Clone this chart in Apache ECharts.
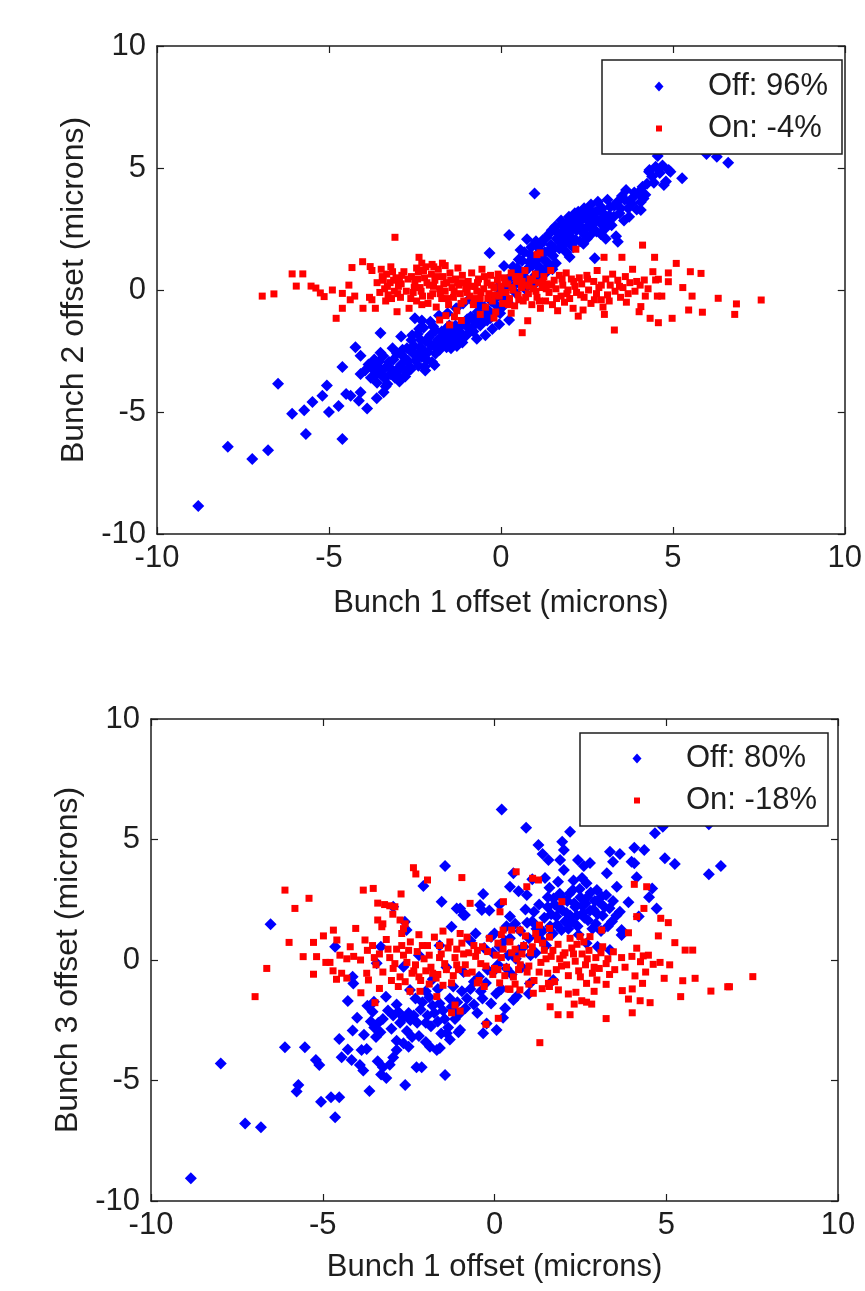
<!DOCTYPE html>
<html>
<head>
<meta charset="utf-8">
<script src="https://cdn.jsdelivr.net/npm/echarts@6/dist/echarts.min.js"></script>
<style>
  html, body { margin: 0; padding: 0; background: #ffffff; }
  #chart { width: 865px; height: 1291px; }
</style>
</head>
<body>
<div id="chart"></div>
<script>
// Axis ticks shared by both panels (microns)
const axisTicks = [-10, -5, 0, 5, 10];

const xTitle = 'Bunch 1 offset (microns)';
const yTitleTop = 'Bunch 2 offset (microns)';
const yTitleBottom = 'Bunch 3 offset (microns)';

const offNameTop = 'Off: 96%';
const onNameTop = 'On: -4%';
const offNameBottom = 'Off: 80%';
const onNameBottom = 'On: -18%';

// Bunch 1 vs bunch 2, feedback off
const offTop = [
  [-8.80,-8.85],[-7.94,-6.42],[-7.23,-6.93],[-6.77,-6.57],[-6.48,-3.84],[-6.07,-5.07],[-5.72,-4.93],[-5.67,-5.90],
  [-5.48,-4.59],[-5.19,-4.33],[-5.06,-3.91],[-5.00,-5.00],[-4.72,-4.75],[-4.61,-6.11],[-4.61,-3.16],[-4.50,-4.26],
  [-4.37,-4.33],[-4.23,-2.35],[-4.13,-4.54],[-4.08,-2.69],[-4.08,-4.19],[-3.89,-4.86],[-4.08,-3.44],[-3.61,-4.44],
  [-3.41,-4.19],[-3.50,-1.76],[-3.50,-2.57],[-3.15,-2.39],[-2.90,-1.91],[-2.73,-2.39],[-2.50,-1.16],[-2.21,-3.14],
  [-1.93,-3.07],[-1.45,-2.39],
  [-3.85,-3.05],[-3.72,-3.25],[-3.65,-3.50],[-3.55,-2.95],[-3.45,-3.30],[-3.38,-3.62],[-3.30,-3.10],[-3.22,-3.45],
  [-3.12,-2.85],[-3.05,-3.30],[-2.98,-3.55],[-2.90,-3.05],[-2.82,-2.75],[-3.60,-3.80],[-3.30,-3.85],[-2.95,-3.75],
  [-2.75,-3.40],[-2.65,-3.15],
  [-2.60,-2.05],[-2.55,-2.60],[-2.48,-2.90],[-2.42,-1.80],[-2.35,-2.35],[-2.30,-2.75],[-2.25,-1.55],[-2.18,-2.10],
  [-2.12,-2.55],[-2.05,-1.85],[-2.00,-2.95],[-1.95,-2.30],[-1.90,-1.65],[-2.40,-3.10],[-2.65,-2.45],[-2.20,-3.30],
  [-2.30,-1.25],[-2.05,-1.30],[-1.80,-1.05],[-1.55,-0.95],[-1.30,-0.75],[-1.10,-0.55],[-0.90,-0.35],
  [-1.75,-1.95],[-1.68,-2.20],[-1.60,-1.60],[-1.52,-2.05],[-1.45,-1.80],[-1.40,-2.25],[-1.32,-1.45],[-1.25,-1.95],
  [-1.20,-1.70],[-1.12,-2.15],[-1.05,-1.35],[-1.00,-1.85],[-0.95,-1.55],[-0.88,-1.10],[-0.80,-1.70],[-0.75,-1.30],
  [-0.68,-0.90],[-0.60,-1.45],[-0.55,-1.05],[-0.48,-0.70],[-0.40,-1.25],[-0.35,-0.85],[-0.28,-0.45],[-0.20,-1.00],
  [-0.15,-0.60],[-0.08,-0.25],[0.00,-0.75],[0.05,-0.35],[0.12,0.05],[0.20,-0.50],[0.24,-1.23],[-0.05,-1.40],
  [-0.25,-1.60],[-0.45,-1.85],[-0.70,-2.00],[-0.10,0.10],[-0.33,1.52],[0.24,2.25],[0.98,3.95],
  [0.09,0.98],[0.57,1.64],[0.76,2.08],[0.30,0.55],[0.40,0.20],[0.48,0.90],[0.55,0.40],[0.62,1.20],
  [0.70,0.75],[0.78,0.30],[0.85,1.45],[0.92,1.00],[1.00,0.60],[1.05,1.80],[1.10,1.30],[1.15,0.90],
  [1.22,2.05],[1.28,1.55],[1.35,1.15],[1.40,2.30],[1.45,1.85],[1.52,1.40],[1.58,2.60],[1.62,2.10],
  [1.70,1.70],[1.75,2.85],[1.80,2.35],[1.85,1.90],[1.92,2.60],[1.98,3.00],[2.02,2.20],[2.08,2.75],
  [2.15,3.15],[2.20,2.45],[2.25,3.21],[2.30,2.00],[2.35,2.90],[2.42,3.35],[2.48,2.55],[2.55,3.05],
  [2.62,3.50],[2.68,2.70],[2.73,1.30],[2.75,3.20],[2.82,3.62],[2.88,2.85],[2.95,3.35],[3.02,2.50],
  [3.10,3.70],[3.15,3.05],[3.22,2.65],[3.30,3.45],[3.35,2.20],[3.40,1.98],[3.45,3.15],[3.52,3.85],
  [3.58,2.85],[3.64,4.10],[3.73,3.00],[3.80,3.55],[3.88,4.00],[3.95,3.30],[4.07,3.61],[4.07,3.28],
  [4.12,4.23],[4.20,3.90],[4.31,4.85],[4.32,4.92],[4.45,4.40],[4.50,5.05],[4.56,5.49],[4.74,4.30],
  [4.80,4.45],[4.88,4.92],[4.93,4.85],[5.27,4.58],[5.98,5.57],[6.28,5.46],[6.61,5.22],
  [1.60,1.10],[1.90,1.55],[2.10,1.75],[1.30,0.70],[0.95,0.20],[2.40,1.90],[2.60,2.25],[1.50,0.85],
  [0.70,0.05],[1.85,2.55],[2.00,1.35],[2.35,2.40],[2.50,2.10],[2.90,2.30],[3.05,2.10],[1.15,1.60],
  [1.70,2.30],[1.95,2.10],[2.25,2.70],[2.05,2.45],[1.80,1.95],[1.40,1.00],[1.10,0.55],[0.80,0.90],
  [0.45,0.65],
  [-3.95,-3.30],[-3.78,-3.60],[-3.68,-2.85],[-3.58,-3.15],[-3.48,-3.45],[-3.42,-2.70],[-3.35,-3.95],[-3.25,-2.95],
  [-3.18,-3.25],[-3.08,-3.60],[-3.02,-2.60],[-2.92,-3.20],[-2.86,-2.45],[-2.78,-3.55],[-2.70,-2.90],[-2.62,-3.25],
  [-2.58,-1.85],[-2.52,-2.30],[-2.44,-2.65],[-2.38,-1.60],[-2.33,-2.05],[-2.26,-2.45],[-2.16,-2.85],[-2.10,-1.95],
  [-2.03,-2.25],[-1.97,-1.50],[-1.90,-2.60],[-1.84,-2.05],[-1.78,-2.45],[-1.72,-1.70],[-1.65,-1.95],[-1.58,-2.35],
  [-1.50,-1.45],[-1.42,-2.05],[-1.36,-1.65],[-1.28,-2.30],[-1.18,-1.50],[-1.10,-1.90],[-0.98,-1.20],[-0.85,-1.55],
  [-0.72,-1.15],[-0.62,-0.60],[-0.52,-1.30],[-0.42,-0.95],[-0.30,-1.15],[-0.18,-0.30],[-0.02,-0.95],[0.10,-0.60],
  [0.18,0.40],[0.35,0.95],[0.42,-0.10],[0.52,1.25],[0.60,0.65],[0.68,1.55],[0.74,0.45],[0.82,1.15],
  [0.88,1.75],[0.98,1.25],[1.02,2.00],[1.08,0.95],[1.18,1.90],[1.25,1.25],[1.32,2.15],[1.38,1.60],
  [1.48,2.45],[1.55,1.70],[1.65,2.35],[1.72,1.95],[1.78,2.70],[1.88,2.20],[1.95,2.80],[2.00,1.90],
  [2.12,2.55],[2.18,2.05],[2.22,2.95],[2.32,2.60],[2.38,3.10],[2.45,2.25],[2.52,2.85],[2.58,3.30],
  [2.65,2.50],[2.72,3.00],[2.78,2.40],[2.85,3.30],[2.92,2.70],[3.00,3.10],[3.08,2.80],[3.18,3.40],
  [3.28,3.00],[3.38,3.60],[3.48,3.35],[3.60,3.70],[3.70,3.35],[3.85,3.80],[4.00,4.00],[4.15,3.75],
  [4.25,4.35],[4.40,4.65],[4.62,4.80],[4.70,5.10]
];

// Bunch 1 vs bunch 2, feedback on
const onTop = [
  [-6.94,-0.25],[-6.60,-0.16],[-6.07,0.66],[-5.76,0.66],[-5.95,0.16],[-5.52,0.16],[-5.38,0.08],[-5.25,-0.12],
  [-5.14,-0.27],[-4.90,0.00],[-4.79,-1.16],[-4.61,-0.14],[-4.61,-0.75],[-4.42,0.20],[-4.33,0.92],[-4.25,-0.25],
  [-4.38,-0.40],[-4.02,1.16],[-4.01,-0.75],[-3.80,0.96],[-3.75,0.80],[-3.82,-0.30],[-3.75,-0.40],[-3.65,-0.75],
  [-3.08,2.16],[-3.02,-0.89],[-2.67,-0.75],[-2.38,1.34],[-2.30,1.10],[-2.00,1.05],[-1.62,1.00],[-1.49,-1.43],
  [-1.78,-1.23],
  [-3.48,0.85],[-3.42,0.40],[-3.38,0.05],[-3.32,0.65],[-3.28,-0.20],[-3.22,0.30],[-3.15,0.75],[-3.10,-0.05],
  [-3.05,0.50],[-2.98,0.15],[-2.92,-0.30],[-2.88,0.60],[-3.35,-0.45],[-3.20,0.95],[-2.95,0.35],
  [-2.60,0.55],[-2.55,-0.10],[-2.50,0.30],[-2.45,-0.45],[-2.40,0.75],[-2.35,0.10],[-2.28,-0.25],[-2.22,0.50],
  [-2.18,0.95],[-2.12,-0.55],[-2.08,0.20],[-2.02,0.65],[-1.98,-0.15],[-1.92,0.40],[-1.88,-0.70],[-1.82,0.85],
  [-1.78,0.05],[-1.72,-0.35],[-1.68,0.55],[-1.62,-0.05],[-1.58,0.30],[-1.52,-0.60],[-1.48,0.70],[-1.42,0.10],
  [-1.38,-0.30],[-1.32,0.45],[-1.28,-0.85],[-1.22,0.20],[-1.18,-0.15],[-1.12,0.60],[-1.08,-0.45],[-1.02,0.05],
  [-1.60,-1.05],[-1.35,-1.10],[-1.15,-1.25],[-2.30,-0.60],[-1.95,0.95],[-2.45,0.90],[-1.70,1.10],[-1.25,0.90],
  [-0.95,0.35],[-0.90,-0.25],[-0.85,0.70],[-0.80,-0.60],[-0.75,0.15],[-0.70,-0.05],[-0.65,0.45],[-0.60,-0.35],
  [-0.55,0.85],[-0.50,0.05],[-0.45,-0.70],[-0.40,0.30],[-0.35,-0.15],[-0.30,0.60],[-0.25,-0.45],[-0.20,0.10],
  [-0.15,-0.90],[-0.10,0.40],[-0.05,-0.25],[0.00,0.15],[0.05,-0.55],[0.10,0.50],[0.15,-0.10],[0.20,0.25],
  [0.25,-0.35],[0.30,0.70],[0.35,0.00],[0.40,-0.65],[0.45,0.35],[0.50,-0.20],[0.55,0.55],[0.60,0.10],
  [0.62,-1.75],[0.65,-0.45],[0.70,0.80],[0.75,0.20],[0.78,-1.26],[0.80,-0.15],[0.85,0.45],[0.90,-0.60],
  [0.95,0.05],[1.00,0.65],[-0.60,-1.00],[-0.20,-1.15],[0.30,-0.95],[1.05,1.45],
  [1.05,-0.30],[1.10,0.30],[1.14,1.52],[1.15,-0.75],[1.20,0.10],[1.25,0.55],[1.30,-0.45],[1.35,0.25],
  [1.40,-0.10],[1.45,0.80],[1.50,-0.60],[1.55,0.40],[1.60,0.05],[1.65,-0.85],[1.70,0.60],[1.75,-0.25],
  [1.80,0.20],[1.85,-0.50],[1.90,0.70],[1.95,0.00],[2.00,-0.35],[2.05,0.45],[2.10,-0.75],[2.15,0.15],
  [2.18,1.67],[2.20,-0.10],[2.25,-1.07],[2.28,0.50],[2.39,-0.82],
  [2.35,0.25],[2.42,-0.30],[2.50,0.60],[2.55,0.00],[2.62,-0.55],[2.70,0.35],[2.78,-0.15],[2.80,0.80],
  [2.85,0.10],[2.92,-0.40],[2.97,-0.70],[3.00,1.34],[3.01,-1.00],[3.05,0.45],[3.10,-0.20],[3.18,0.20],
  [3.25,0.65],[3.30,-1.64],[3.32,-0.05],[3.40,0.40],[3.48,-0.30],[3.52,1.34],[3.55,0.10],[3.62,0.55],
  [3.70,-0.15],[3.75,0.30],[3.83,0.85],[3.90,-0.05],[4.02,-0.89],[4.05,0.20],[4.07,-0.68],[4.12,1.84],
  [4.17,0.41],[4.20,-0.25],[4.28,0.05],[4.34,-1.16],[4.42,0.75],[4.47,1.34],[4.50,0.41],[4.55,-0.25],
  [4.58,-1.34],[4.58,0.44],[4.68,-0.25],[4.87,0.70],[4.87,0.34],[4.98,-1.16],[5.10,1.09],[5.29,0.10],
  [5.46,-0.82],[5.51,0.75],[5.56,-0.25],[5.82,0.68],[5.86,-0.91],[6.32,-0.34],[6.80,-1.00],[6.85,-0.57],
  [7.57,-0.41],
  [-3.60,0.30],[-3.52,-0.10],[-3.45,0.55],[-3.30,0.15],[-3.18,-0.35],[-3.12,0.40],[-3.00,-0.15],[-2.90,0.25],
  [-2.82,0.75],[-2.75,-0.05],[-2.70,0.45],[-2.62,-0.35],[-2.52,0.10],[-2.42,0.45],[-2.32,-0.05],[-2.25,0.80],
  [-2.15,0.30],[-2.05,-0.25],[-1.96,0.15],[-1.86,0.55],[-1.76,-0.15],[-1.66,0.25],[-1.56,-0.35],[-1.46,0.40],
  [-1.36,-0.05],[-1.26,0.30],[-1.16,-0.55],[-1.06,0.30],[-0.98,-0.10],[-0.88,0.15],[-0.78,-0.35],[-0.68,0.30],
  [-0.58,-0.10],[-0.48,0.55],[-0.38,-0.35],[-0.28,0.20],[-0.18,-0.20],[-0.08,0.65],[0.02,-0.10],[0.12,0.30],
  [0.22,-0.60],[0.32,0.10],[0.42,0.55],[0.52,-0.40],[0.62,0.35],[0.72,-0.30],[0.82,0.15],[0.92,0.40],
  [1.02,-0.05],[1.12,-0.45],[1.22,0.35],[1.32,0.05],[1.48,0.20],[1.62,-0.35],[1.78,0.45],[1.92,-0.15],
  [2.12,0.35],[2.32,-0.20],[2.52,0.45],[2.72,-0.40],[2.92,0.20],[3.15,-0.45],[3.45,0.15],[3.65,-0.50],
  [3.95,0.35]
];

// Bunch 1 vs bunch 3, feedback off
const offBottom = [
  [-8.84,-9.06],[-7.97,-4.29],[-7.26,-6.78],[-6.80,-6.94],[-6.52,1.48],[-6.10,-3.62],[-5.52,-3.62],[-5.20,-4.15],
  [-5.10,-4.36],[-5.71,-5.19],[-5.76,-5.46],[-5.05,-5.88],[-4.76,-5.70],[-4.52,-5.70],[-4.64,-6.53],[-4.64,0.55],
  [-4.52,-3.28],[-4.45,-4.04],[-4.27,-3.71],[-4.27,-1.70],[-4.13,-2.93],[-4.16,-4.15],[-4.13,-0.69],[-4.11,-0.97],
  [-3.87,-3.73],[-3.72,-3.69],[-3.92,-4.36],[-3.82,-4.59],[-3.64,-5.44],
  [-3.60,-2.55],[-3.50,-2.80],[-3.45,-3.20],[-3.38,-2.60],[-3.32,-3.00],[-3.51,-1.73],
  [-3.40,-4.20],[-3.25,-4.45],[-3.15,-4.90],[-3.30,-4.75],[-3.05,-4.35],
  [-3.16,-1.52],[-3.10,-2.10],[-2.95,-2.30],[-2.80,-2.15],[-2.65,-2.40],[-2.50,-2.20],[-2.45,-2.50],
  [-2.85,-3.35],[-2.85,-3.73],[-2.65,-3.45],[-2.60,-5.19],[-2.27,-4.45],[-2.12,-4.45],[-2.40,-3.20],[-2.20,-3.15],
  [-1.88,-3.60],[-1.68,-3.73],[-1.44,-4.77],
  [-2.10,-1.75],[-1.95,-2.30],[-1.80,-1.90],[-1.65,-2.55],[-1.50,-2.10],[-1.35,-2.80],[-1.25,-1.95],[-1.15,-2.45],
  [-1.05,-3.00],[-1.00,-2.20],[-1.85,-2.75],[-1.55,-3.05],[-2.25,-2.60],
  [-1.44,3.90],[-2.07,3.07],[-1.54,2.42],[-1.10,2.14],[-0.91,1.87],[-1.25,1.38],[-2.61,1.59],[-2.56,1.24],
  [-2.95,2.21],[-3.31,0.55],[-3.43,-0.14],[-2.65,-0.28],[-2.46,-1.24],
  [-1.39,-3.04],[-1.00,-2.90],[-0.33,-3.04],[0.06,-2.90],[-0.23,-2.63],[0.31,-2.00],[0.55,-1.66],[1.03,-0.97],
  [1.71,-0.83],[2.68,0.69],[3.00,0.55],[3.36,0.41],[3.70,1.04],[-1.59,-3.65],
  [0.21,6.25],[0.92,5.49],[2.20,5.32],[1.28,4.77],[1.40,4.40],[1.57,4.15],[1.97,4.91],[2.02,4.56],
  [1.91,4.15],[2.02,3.73],[2.43,4.15],[2.78,4.02],[2.60,3.90],[3.36,4.49],[3.65,4.40],[3.45,4.08],
  [4.07,4.66],[4.36,4.56],[3.99,4.08],[4.07,4.01],[4.67,5.26],[4.90,5.53],[4.96,4.22],[5.25,3.98],
  [6.24,3.56],[6.59,3.90],[6.24,5.63],[4.14,3.43],[4.59,2.97],[4.72,2.14],[3.27,3.60],[3.56,3.04],
  [3.65,2.00],[3.70,1.24],[0.45,3.04],[0.70,2.85],[0.94,2.70],[1.47,3.40],[1.85,3.25],[2.30,3.30],
  [2.55,3.40],[2.68,3.18],[-0.33,2.74],[-0.42,2.28],[-0.37,2.07],[-1.00,2.14],[-0.86,1.87],[2.98,2.90],
  [3.12,2.63],
  [1.55,2.60],[1.65,1.90],[1.75,2.30],[1.82,1.45],[1.90,2.75],[1.98,2.05],[2.05,1.60],[2.12,2.45],
  [2.20,1.85],[2.28,2.90],[2.35,2.20],[2.42,1.40],[2.50,2.60],[2.58,1.95],[2.65,2.35],[2.72,1.65],
  [2.80,2.80],[2.88,2.10],[2.95,1.50],[3.05,2.40],[3.15,1.85],[3.25,2.70],[3.35,2.15],[3.42,1.60],
  [2.15,1.30],[1.70,1.10],[2.45,1.05],[3.10,1.20],
  [-0.80,-1.60],[-0.60,-0.90],[-0.50,-2.20],[-0.40,-1.30],[-0.30,0.50],[-0.20,-0.40],[-0.10,-1.80],[0.00,1.10],
  [0.10,-0.20],[0.20,-1.20],[0.30,0.80],[0.40,0.20],[0.50,-0.60],[0.60,1.50],[0.70,0.40],[0.80,-0.30],
  [0.90,2.10],[1.00,0.90],[1.10,1.60],[1.20,0.30],[1.30,2.30],[1.40,1.20],[1.50,0.60],[-0.70,0.80],
  [-0.90,-0.50],[-1.20,-1.10],[-1.40,-0.30],[-1.60,0.60],[-1.80,-0.80],[-2.00,-1.30],[-2.20,0.20],[-0.05,0.30],
  [0.25,-2.40],[0.65,-1.50],[1.00,-1.40],[1.25,1.00],[0.45,1.80],[0.15,2.30],[-0.55,1.10],[4.50,2.60],
  [4.20,1.80],[3.90,2.40],[1.60,3.00],[1.10,3.35],[0.55,3.60],[-0.10,0.95],[-0.15,2.05],[0.35,1.40],
  [-3.55,-2.15],[-3.25,-2.45],[-3.00,-2.85],[-2.75,-2.60],[-2.55,-2.95],[-2.35,-2.30],[-2.15,-2.05],[-2.00,-2.60],
  [-1.90,-1.55],[-1.75,-2.20],[-1.60,-1.80],[-1.45,-2.45],[-1.30,-1.60],[-1.20,-2.05],[-1.08,-1.75],[-0.95,-1.30],
  [-0.85,-2.00],[-0.70,-1.20],[-0.60,-1.85],[-0.45,-0.70],[-0.35,-1.60],[-0.25,-0.95],[-0.05,-0.50],[0.05,-1.40],
  [0.15,0.55],[0.35,-0.35],[0.45,0.90],[0.62,0.05],[0.75,1.20],[0.85,0.55],[0.95,1.55],[1.05,0.20],
  [1.15,2.00],[1.22,1.30],[1.35,0.85],[1.45,1.75],[1.55,2.20],[1.62,1.40],[1.72,2.55],[1.80,1.80],
  [1.88,2.15],[1.95,1.25],[2.02,2.50],[2.10,1.95],[2.18,2.75],[2.25,1.60],[2.32,2.35],[2.40,1.85],
  [2.48,2.95],[2.55,2.25],[2.62,1.75],[2.70,2.60],[2.78,2.05],[2.85,1.30],[2.92,2.45],[3.00,1.90],
  [3.20,2.20],[3.30,1.40],[3.45,2.45],[3.55,1.85],[-2.85,-1.85],[-2.30,-1.60],[-1.65,-1.20],[-3.80,-3.10],
  [-4.00,-2.40],[-3.70,-1.90],[-2.95,-4.05],[-2.50,-3.60],[-2.00,-3.40],[-1.30,-3.30]
];

// Bunch 1 vs bunch 3, feedback on
const onBottom = [
  [-2.36,3.83],[-2.29,3.57],[-1.95,3.32],[-0.95,3.42],[-6.10,2.90],[-5.40,2.56],[-5.81,2.14],[-3.82,2.90],
  [-3.53,2.97],[-2.72,2.74],[-6.97,-1.52],[-6.63,-0.35],[-5.98,0.73],[-5.27,0.73],[-5.57,0.14],[-5.18,0.14],
  [-5.27,-0.59],[-4.98,1.00],[-4.69,1.24],[-4.59,0.83],[-4.91,-0.10],[-4.79,-0.10],[-4.70,-0.45],[-4.60,-0.80],
  [-4.45,-0.55],[-4.30,-0.75],[-4.50,0.20],[-4.30,0.05],[-4.10,0.15],[-3.90,0.00],[-4.04,1.31],[-3.77,0.83],
  [-3.89,-1.36],[-3.72,-0.55],[-3.67,-0.83],[-3.48,-1.77],[-3.35,-1.18],[-3.40,2.36],[-3.20,2.30],[-3.05,2.25],
  [-2.90,2.21],[-3.40,1.66],[-3.25,1.50],[-3.28,1.38],[-2.96,1.90],[-2.75,1.66],[-2.65,1.30],[-2.70,1.10],
  [-2.60,1.50],[-2.80,-1.10],[-2.46,-1.30],[-2.17,-1.30],[-1.68,-1.52],[-1.25,-2.19],[-1.00,-2.12],[-1.15,-1.87],
  [-3.55,0.60],[-3.45,-0.20],[-3.35,0.25],[-3.25,-0.50],[-3.15,0.85],[-3.05,0.10],[-2.95,-0.35],[-2.85,0.45],
  [-2.75,-0.70],[-2.65,0.20],[-2.55,-0.10],[-2.45,0.75],[-2.35,-0.45],[-2.25,0.35],[-2.15,-0.85],[-2.05,0.05],
  [-1.95,0.60],[-1.85,-0.30],[-1.75,0.95],[-1.65,-0.60],[-1.55,0.25],[-1.45,-0.15],[-1.35,0.50],[-1.25,-0.95],
  [-1.15,0.10],[-1.05,-0.40],[-0.95,0.70],[-0.85,-0.20],[-0.75,0.30],[-2.60,-0.90],[-2.20,1.05],[-1.90,-1.00],
  [-1.50,1.20],[-1.20,-0.65],[-3.00,-0.85],[-2.40,-0.55],[-1.70,-0.75],[-1.10,0.45],[-2.00,-0.45],[-1.60,0.60],
  [0.63,3.66],[1.11,3.39],[1.28,3.32],[0.94,3.04],[-0.71,2.35],[0.26,2.42],[1.96,2.42],[4.07,3.14],
  [4.43,3.04],[4.35,2.14],[4.14,1.80],[4.84,1.73],[5.06,1.55],[4.77,1.00],[5.25,0.72],[3.90,1.13],
  [3.12,1.24],[0.16,2.00],[1.31,1.45],[1.60,1.31],[0.25,1.24],[0.50,1.24],[0.74,1.24],[2.49,0.97],
  [2.78,0.97],
  [7.52,-0.69],[6.79,-1.11],[6.84,-1.11],[6.30,-1.29],[5.84,-0.76],[5.42,-1.52],[5.48,-0.86],[4.94,-0.76],
  [5.55,0.41],[5.77,0.41],[4.53,-1.77],[4.24,-1.69],[4.01,-2.19],[3.90,-1.62],[4.01,-1.20],[3.72,-1.27],
  [4.09,-0.66],[4.31,-0.97],[3.25,-2.43],[2.54,-1.69],[2.68,-1.75],[2.83,-1.83],[2.32,-1.83],[2.20,-2.27],
  [1.85,-2.27],[1.62,-1.94],[2.15,-1.41],[2.37,-1.34],[1.32,-3.43],[3.25,-1.01],[2.98,-0.83],[2.68,-0.97],
  [1.86,-1.24],[1.39,-1.19],[1.57,-0.97],[0.74,-1.24],[1.13,-1.38],[0.45,-1.22],[-0.25,-2.67],[0.11,-2.42],
  [3.46,0.34],[3.70,0.10],[4.00,0.15],[4.25,-0.07],[4.48,0.20],[4.62,-0.18],[4.82,-0.10],[4.14,0.49],
  [4.33,0.17],
  [-0.65,-0.50],[-0.55,0.15],[-0.45,-0.85],[-0.35,0.55],[-0.25,-0.25],[-0.15,0.90],[-0.05,-0.60],[0.05,0.20],
  [0.15,-0.95],[0.25,0.45],[0.35,-0.30],[0.45,0.75],[0.55,-0.70],[0.65,0.05],[0.75,-0.20],[0.85,0.60],
  [0.95,-0.50],[1.05,0.30],[1.15,-0.85],[1.25,0.85],[1.35,-0.10],[1.45,0.40],[1.55,-0.55],[1.65,0.15],
  [1.75,-0.90],[1.85,0.65],[1.95,-0.25],[2.05,0.30],[2.15,-0.65],[2.25,0.50],[2.35,-0.05],[2.45,-0.45],
  [2.55,0.25],[2.65,-0.20],[2.75,0.40],[2.85,-0.55],[2.95,0.10],[3.05,-0.35],[3.15,0.55],[3.25,-0.15],
  [3.35,-0.60],[-0.30,-1.10],[0.20,1.05],[0.90,1.00],[1.60,0.95],[2.20,0.90],[0.40,-1.20],[1.00,-1.00],
  [-0.80,0.95],[0.60,0.45],[1.40,0.70],[1.90,0.05],[-0.50,0.40],[0.10,-0.40],[2.60,0.75],
  [-2.50,0.40],[-2.30,-0.20],[-2.10,0.60],[-1.90,0.20],[-1.80,-0.55],[-1.60,0.10],[-1.40,-0.40],[-1.30,0.75],
  [-1.10,-0.20],[-0.90,0.25],[-0.80,-0.55],[-0.60,0.60],[-0.40,-0.15],[-0.20,0.35],[0.00,-0.35],[0.20,0.10],
  [0.30,-0.65],[0.50,0.30],[0.70,-0.40],[0.80,0.25],[1.00,-0.25],[1.10,0.55],[1.30,-0.50],[1.50,0.05],
  [1.70,0.40],[1.80,-0.40],[2.00,0.20],[2.10,-0.20],[2.30,0.25],[2.50,-0.70],[2.70,0.05],[2.90,-0.30],
  [3.10,0.30],[3.30,0.05],[3.50,-0.40],[-3.10,0.45],[-2.90,-0.15],[-2.70,0.60],[-3.50,0.10],[-3.70,0.40],
  [-4.20,0.55],[-1.00,1.10],[0.10,0.70],[1.20,1.10],[2.40,0.65],[-0.50,-0.95],[0.60,-1.00],[1.60,-1.10],
  [2.90,-1.30],[-2.20,-0.70],[-1.50,-1.05],[3.80,-0.30],[4.40,-0.50],[5.10,-0.20]
];

const FONT = "'Liberation Sans', Arial, Helvetica, sans-serif";
const INK = '#1e1e1e';
const BLUE = '#0000ff';
const RED = '#ff0000';

const tickMin = axisTicks[0];
const tickMax = axisTicks[axisTicks.length - 1];
const tickStep = axisTicks[1] - axisTicks[0];

function valueAxis(gridIndex, position, opts) {
  const isX = position === 'bottom' || position === 'top';
  const labelled = position === 'bottom' || position === 'left';
  return Object.assign({
    type: 'value',
    gridIndex: gridIndex,
    position: position,
    min: tickMin,
    max: tickMax,
    interval: tickStep,
    splitLine: { show: false },
    axisLine: { show: true, onZero: false, lineStyle: { color: INK, width: 1.5 } },
    axisTick: { show: true, inside: true, length: 7, lineStyle: { color: INK, width: 1.2 } },
    axisLabel: {
      show: labelled,
      color: INK,
      fontFamily: FONT,
      fontSize: 31,
      margin: isX ? 9 : 11,
      showMinLabel: true,
      showMaxLabel: true
    },
    nameTextStyle: { color: INK, fontFamily: FONT, fontSize: isX ? 31 : 32 }
  }, opts || {});
}

// One legend entry: marker, a fixed gap, then the label
function legendItem(name, icon, w, h, gap, left, top) {
  return {
    data: [name],
    selectedMode: false,
    orient: 'vertical',
    left: left,
    top: top,
    padding: 0,
    itemWidth: w,
    itemHeight: h,
    icon: icon,
    formatter: function (n) { return '{g|}{t|' + n + '}'; },
    textStyle: {
      color: INK, fontFamily: FONT, fontSize: 31,
      rich: {
        g: { width: gap },
        t: { color: INK, fontFamily: FONT, fontSize: 31 }
      }
    },
    z: 6
  };
}

const option = {
  animation: false,
  backgroundColor: '#ffffff',
  grid: [
    { left: 157, right: 11, top: 46, height: 488 },
    { left: 151, right: 27, top: 719, height: 482 }
  ],
  xAxis: [
    valueAxis(0, 'bottom', { name: xTitle, nameLocation: 'middle', nameGap: 54 }),
    valueAxis(0, 'top'),
    valueAxis(1, 'bottom', { name: xTitle, nameLocation: 'middle', nameGap: 51 }),
    valueAxis(1, 'top')
  ],
  yAxis: [
    valueAxis(0, 'left', { name: yTitleTop, nameLocation: 'middle', nameGap: 67 }),
    valueAxis(0, 'right'),
    valueAxis(1, 'left', { name: yTitleBottom, nameLocation: 'middle', nameGap: 66 }),
    valueAxis(1, 'right')
  ],
  legend: [
    legendItem(offNameTop, 'diamond', 9, 10, 39.5, 654.5, 71),
    legendItem(onNameTop, 'rect', 6, 6, 41, 656, 113),
    legendItem(offNameBottom, 'diamond', 9, 10, 39.5, 632.5, 743),
    legendItem(onNameBottom, 'rect', 6, 6, 41, 634, 785)
  ],
  graphic: [
    {
      type: 'rect', z: 5,
      shape: { x: 602, y: 60, width: 240, height: 94 },
      style: { fill: '#ffffff', stroke: INK, lineWidth: 1.5 }
    },
    {
      type: 'rect', z: 5,
      shape: { x: 580, y: 733, width: 248, height: 93 },
      style: { fill: '#ffffff', stroke: INK, lineWidth: 1.5 }
    }
  ],
  series: [
    {
      name: offNameTop, type: 'scatter', xAxisIndex: 0, yAxisIndex: 0,
      symbol: 'diamond', symbolSize: [12, 12],
      itemStyle: { color: BLUE, opacity: 1 }, data: offTop
    },
    {
      name: onNameTop, type: 'scatter', xAxisIndex: 0, yAxisIndex: 0,
      symbol: 'rect', symbolSize: [7, 7],
      itemStyle: { color: RED, opacity: 1 }, data: onTop
    },
    {
      name: offNameBottom, type: 'scatter', xAxisIndex: 2, yAxisIndex: 2,
      symbol: 'diamond', symbolSize: [12, 12],
      itemStyle: { color: BLUE, opacity: 1 }, data: offBottom
    },
    {
      name: onNameBottom, type: 'scatter', xAxisIndex: 2, yAxisIndex: 2,
      symbol: 'rect', symbolSize: [7, 7],
      itemStyle: { color: RED, opacity: 1 }, data: onBottom
    }
  ]
};

const chart = echarts.init(document.getElementById('chart'), null, { renderer: 'canvas' });
chart.setOption(option);
</script>
</body>
</html>
